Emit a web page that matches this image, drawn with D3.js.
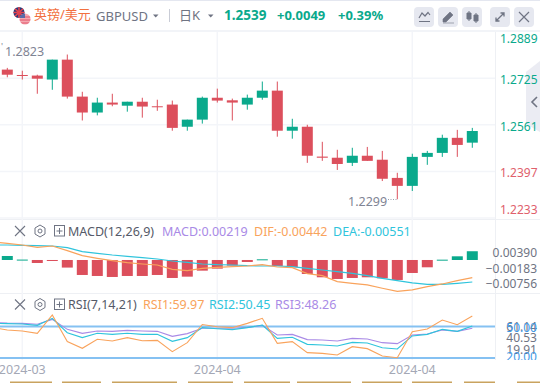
<!DOCTYPE html>
<html>
<head>
<meta charset="utf-8">
<script src="https://cdn.jsdelivr.net/npm/d3@7"></script>
<style>
  html, body { margin: 0; padding: 0; background: #fff; overflow: hidden; }
  svg { display: block; font-family: "Noto Sans", "Noto Sans CJK SC", sans-serif; }
</style>
</head>
<body>
<svg id="chart" width="540" height="383"></svg>
<script>
// daily candles
const opens  = [1.2755,1.2736,1.2734,1.2720,1.2790,1.2660,1.2604,1.2639,1.2628,1.2642,1.2626,1.2632,1.2554,1.2579,1.2656,1.2647,1.2632,1.2656,1.2681,1.2540,1.2554,1.2449,1.2445,1.2427,1.2452,1.2438,1.2374,1.2346,1.2448,1.2462,1.2515,1.2498];
const closes = [1.2737,1.2733,1.2723,1.2790,1.2660,1.2604,1.2639,1.2632,1.2642,1.2625,1.2623,1.2550,1.2579,1.2656,1.2646,1.2639,1.2656,1.2681,1.2540,1.2554,1.2452,1.2445,1.2423,1.2452,1.2434,1.2371,1.2346,1.2448,1.2462,1.2515,1.2490,1.2539];
const highs  = [1.2761,1.2751,1.2737,1.2790,1.2808,1.2677,1.2656,1.2670,1.2642,1.2656,1.2649,1.2646,1.2579,1.2660,1.2688,1.2653,1.2667,1.2713,1.2713,1.2582,1.2561,1.2501,1.2473,1.2480,1.2483,1.2469,1.2392,1.2459,1.2469,1.2526,1.2543,1.2550];
const lows   = [1.2728,1.2720,1.2670,1.2684,1.2653,1.2576,1.2594,1.2626,1.2607,1.2586,1.2610,1.2540,1.2540,1.2565,1.2639,1.2576,1.2614,1.2649,1.2519,1.2512,1.2427,1.2434,1.2402,1.2416,1.2434,1.2363,1.2299,1.2328,1.2420,1.2448,1.2448,1.2480];

const priceTicks = [1.2889,1.2725,1.2561,1.2397,1.2233];
const dateIndex  = [1,14,27];
const dateLabels = ["2024-03","2024-04","2024-04"];

// MACD pane. Lines carry one extra leading point that sits off the left edge
const macdHist = [0.001,0.0001,-0.00075,-0.00017,-0.0019,-0.00375,-0.004,-0.00425,-0.004,-0.004,-0.00375,-0.0045,-0.00417,-0.00267,-0.00217,-0.00142,-0.0005,0.00017,-0.0015,-0.00183,-0.0035,-0.00433,-0.00475,-0.0045,-0.00433,-0.00458,-0.005,-0.00325,-0.00183,0.00008,0.00092,0.00219];
const difLine  = [0.00458,0.00417,0.00375,0.00317,0.0035,0.00233,0.00108,0.00042,-0.00017,-0.00067,-0.001,-0.00125,-0.00233,-0.00267,-0.00208,-0.00183,-0.00167,-0.0015,-0.00117,-0.00175,-0.00192,-0.00342,-0.00392,-0.00542,-0.00583,-0.00625,-0.00708,-0.00783,-0.0075,-0.00667,-0.006,-0.00517,-0.00442];
const deaLine  = [0.00375,0.00375,0.00367,0.00358,0.0035,0.00308,0.00208,0.00167,0.00125,0.00092,0.00058,0.00025,-0.00025,-0.00058,-0.001,-0.00117,-0.00125,-0.00142,-0.0015,-0.0015,-0.00167,-0.00208,-0.0025,-0.00292,-0.00333,-0.00392,-0.00458,-0.00517,-0.00575,-0.00608,-0.00608,-0.00583,-0.00551];
const macdTicks = [0.00390,-0.00183,-0.00756];

// RSI pane, same leading point
const rsi1 = [49.0,46.7,45.7,43.5,61.0,35.6,29.2,37.8,36.2,39.4,36.5,36.8,26.0,34.6,51.9,49.8,48.9,53.0,57.8,34.0,35.6,25.1,24.4,22.9,30.8,28.9,21.9,20.3,45.1,47.6,56.2,51.7,59.97];
const rsi2 = [53.0,52.7,52.4,51.1,57.8,44.1,39.4,43.5,42.5,43.5,42.5,42.5,35.9,39.4,48.9,47.9,47.0,48.9,51.4,38.7,39.7,33.0,32.4,31.4,34.9,34.3,29.8,28.6,41.0,42.5,47.3,45.4,50.45];
const rsi3 = [54.0,53.3,53.0,52.1,56.8,47.3,43.5,45.7,45.4,46.3,45.7,45.4,40.6,43.2,48.3,48.3,48.3,49.2,51.1,41.9,42.5,37.5,37.1,36.2,38.7,38.1,34.6,33.7,41.9,42.9,46.7,45.4,48.26];
const rsiTicks = [61.14,40.53,19.91];
const rsiBands = [50,20];

const green = "#0aa98c", red = "#dc4f5c", orange = "#f9a35c", cyan = "#2fc4dc", purple = "#a98ae6";
const gridColor = "#f3f5f9", axisGray = "#6f7483", paneRight = 495;

const svg = d3.select("#chart");
const x = d3.scaleLinear().domain([0, 31]).range([7.3, 472.3]);
const priceY = d3.scaleLinear().domain([1.2889, 1.2233]).range([31.5, 218]);
const macdY = d3.scaleLinear().domain([0.00390, -0.00756]).range([244.4, 290.2]);
const rsiY = d3.scaleLinear().domain([50, 20]).range([326.5, 358]);
const candleWidth = 11;

// frame and grid
svg.append("rect").attr("width", 540).attr("height", 1).attr("fill", "#e4e7f0");
svg.append("rect").attr("y", 30).attr("width", 540).attr("height", 2).attr("fill", "#f2f4f8");
[219, 293, 360].forEach(y => {
  svg.append("line").attr("x1", 0).attr("x2", 540).attr("y1", y + .5).attr("y2", y + .5)
    .attr("stroke", "#eef0f4");
});
svg.append("line").attr("x1", paneRight + .5).attr("x2", paneRight + .5).attr("y1", 32).attr("y2", 360)
  .attr("stroke", "#eef0f4");
svg.selectAll(".vgrid").data(dateIndex).join("line")
  .attr("class", "vgrid")
  .attr("x1", d => x(d)).attr("x2", d => x(d)).attr("y1", 32).attr("y2", 360)
  .attr("stroke", gridColor).attr("stroke-width", 1.5);
svg.selectAll(".hgrid").data(priceTicks.slice(1)).join("line")
  .attr("class", "hgrid")
  .attr("x1", 0).attr("x2", paneRight).attr("y1", d => priceY(d)).attr("y2", d => priceY(d))
  .attr("stroke", gridColor).attr("stroke-width", 1.5);

// collapse tab on the right, sits behind the axis labels
svg.append("path").attr("d", "M526,72L540,61V132L526,124Z").attr("fill", "#ebecf3");
svg.append("path").attr("d", "M537,97L532,102L537,107").attr("fill", "none").attr("stroke", "#6f7483").attr("stroke-width", 1.6);

// candles
const candles = svg.append("g").selectAll("g").data(opens).join("g")
  .attr("fill", (d, i) => closes[i] >= d ? green : red)
  .attr("stroke", (d, i) => closes[i] >= d ? green : red);
candles.append("line")
  .attr("x1", (d, i) => x(i)).attr("x2", (d, i) => x(i))
  .attr("y1", (d, i) => priceY(highs[i])).attr("y2", (d, i) => priceY(lows[i]))
  .attr("stroke-width", 1);
candles.append("rect")
  .attr("x", (d, i) => x(i) - candleWidth / 2)
  .attr("width", candleWidth)
  .attr("y", (d, i) => priceY(Math.max(d, closes[i])))
  .attr("height", (d, i) => Math.max(1, Math.abs(priceY(d) - priceY(closes[i]))))
  .attr("stroke", "none");

// high / low labels
svg.append("text").attr("x", 5).attr("y", 56).attr("font-size", 12.5).attr("fill", "#7f8494").text("1.2823");
svg.append("text").attr("x", 1).attr("y", 50).attr("font-size", 9).attr("fill", "#7f8494").text("'");
svg.append("text").attr("x", 348).attr("y", 206).attr("font-size", 12.5).attr("fill", "#7f8494").text("1.2299");
svg.append("line").attr("x1", 388).attr("x2", 398).attr("y1", 199.5).attr("y2", 199.5)
  .attr("stroke", "#9a9eac").attr("stroke-dasharray", "1 1.5");

// MACD
svg.append("g").selectAll("rect").data(macdHist).join("rect")
  .attr("x", (d, i) => x(i) - candleWidth / 2)
  .attr("width", candleWidth)
  .attr("y", d => Math.min(macdY(d), macdY(0)))
  .attr("height", d => Math.max(1, Math.abs(macdY(d) - macdY(0))))
  .attr("fill", d => d >= 0 ? green : red);

const macdLine = d3.line().x((d, i) => x(i - 1)).y(d => macdY(d));
svg.append("path").attr("d", macdLine(deaLine)).attr("fill", "none").attr("stroke", cyan).attr("stroke-width", 1.2);
svg.append("path").attr("d", macdLine(difLine)).attr("fill", "none").attr("stroke", orange).attr("stroke-width", 1.2);

// RSI
const rsiLine = d3.line().x((d, i) => x(i - 1)).y(d => rsiY(d));
svg.selectAll(".band").data(rsiBands).join("line")
  .attr("class", "band")
  .attr("x1", 0).attr("x2", paneRight).attr("y1", d => rsiY(d)).attr("y2", d => rsiY(d))
  .attr("stroke", "#85c1f2").attr("stroke-width", 2);
[[rsi3, purple], [rsi2, cyan], [rsi1, orange]].forEach(([values, color]) => {
  svg.append("path").attr("d", rsiLine(values)).attr("fill", "none").attr("stroke", color).attr("stroke-width", 1.1);
});

// axes, labels near the pane edges get pushed back inside
function drawAxis(scale, ticks, format, lo, hi, color, anchor) {
  const g = svg.append("g").attr("transform", `translate(${paneRight},0)`)
    .call(d3.axisRight(scale).tickValues(ticks).tickSize(0).tickPadding(5).tickFormat(format));
  g.select(".domain").remove();
  g.selectAll(".tick text")
    .attr("font-size", 12).attr("fill", color)
    .attr("text-anchor", anchor)
    .attr("x", anchor == "end" ? 42 : 5)
    .attr("transform", d => `translate(0,${Math.min(hi, Math.max(lo, scale(d) + 1.5)) - scale(d)})`);
  g.attr("font-family", null);
  return g;
}
const lastClose = closes[closes.length - 1];
drawAxis(priceY, priceTicks, d3.format(".4f"), 39, 210, axisGray, "start")
  .selectAll(".tick text").attr("fill", d => d >= lastClose ? green : "#e0606c");
drawAxis(macdY, macdTicks, d3.format(".5f"), 253, 284, axisGray, "end");
drawAxis(rsiY, rsiTicks, d3.format(".2f"), 327, 350, axisGray, "end");
drawAxis(rsiY, rsiBands, d3.format(".2f"), 327, 357, "#3f9be8", "end");

// white strip under the RSI pane hides what runs over, then the date labels
svg.append("rect").attr("y", 360).attr("width", 540).attr("height", 23).attr("fill", "#fff");
svg.selectAll(".date").data(dateIndex).join("text")
  .attr("class", "date")
  .attr("x", d => x(d)).attr("y", 373.5)
  .attr("text-anchor", "middle").attr("font-size", 12.5).attr("fill", "#a4a8b6")
  .text((d, i) => dateLabels[i]);
const bottomTabs = [[10,42],[62,39],[112,65],[188,45],[244,46],[297,54],[362,40],[412,40],[464,31],[517,23]];
svg.selectAll(".tab").data(bottomTabs).join("rect")
  .attr("class", "tab")
  .attr("x", d => d[0]).attr("width", d => d[1]).attr("y", 381.5).attr("height", 2)
  .attr("fill", "#c9a35f");

// header
svg.append("clipPath").attr("id", "ukClip").append("circle").attr("cx", 19).attr("cy", 12.5).attr("r", 5.5);
svg.append("clipPath").attr("id", "usClip").append("circle").attr("cx", 25).attr("cy", 19).attr("r", 5.5);
const uk = svg.append("g").attr("clip-path", "url(#ukClip)");
uk.append("rect").attr("x", 13).attr("y", 7).attr("width", 12).attr("height", 12).attr("fill", "#2c3a78");
uk.append("path").attr("d", "M13,7L25,18M25,7L13,18M19,7V18M13,12.5H25").attr("stroke", "#e2434f").attr("stroke-width", 1.6);
const us = svg.append("g").attr("clip-path", "url(#usClip)");
us.append("rect").attr("x", 19).attr("y", 13).attr("width", 12).attr("height", 12).attr("fill", "#f4a9b0");
us.append("path").attr("d", "M19,17H31M19,20H31M19,23H31").attr("stroke", "#e2536a").attr("stroke-width", 1);
us.append("rect").attr("x", 19).attr("y", 13).attr("width", 6).attr("height", 5).attr("fill", "#5a6aa8");

function label(px, py, txt, size, color, weight) {
  return svg.append("text").attr("x", px).attr("y", py).attr("font-size", size)
    .attr("fill", color).attr("font-weight", weight || 400).text(txt);
}
label(34, 19, "英镑/美元", 13, "#f2703f");
label(96, 20.5, "GBPUSD", 13, "#6f7483");
svg.append("path").attr("d", "M153,14.5H158.5L155.7,17.5Z").attr("fill", "#6f7483");
svg.append("line").attr("x1", 169.5).attr("x2", 169.5).attr("y1", 9).attr("y2", 22).attr("stroke", "#c9ccd6");
label(179, 20, "日K", 13, "#6f7483");
svg.append("path").attr("d", "M208,14.5H213.5L210.7,17.5Z").attr("fill", "#6f7483");
label(224, 19.5, "1.2539", 13.5, green, 700);
label(277, 19.5, "+0.0049", 13, green, 700);
label(338, 19.5, "+0.39%", 13, green, 700);

// toolbar buttons
const buttonX = [414, 438, 462, 490, 514];
svg.selectAll(".btn").data(buttonX).join("rect")
  .attr("class", "btn")
  .attr("x", d => d).attr("y", 7).attr("width", 20).attr("height", 20).attr("rx", 4)
  .attr("fill", "#e6e8f0");
const glyph = "#6f7483";
svg.append("path").attr("d", "M419,18L422,13L425,16L428,12.5L430,15M419,21.5H430").attr("fill", "none").attr("stroke", glyph).attr("stroke-width", 1.2);
svg.append("path").attr("d", "M443,19L450,12L453,15L446,22H443ZM443,23H454").attr("fill", glyph).attr("stroke", glyph).attr("stroke-width", .6);
svg.append("path").attr("d", "M467,13H471V19H467ZM469,11V21M474,15H478V21H474ZM476,13V23").attr("fill", glyph).attr("stroke", glyph);
svg.append("path").attr("d", "M496,21L504,13M500.5,13H504V16.5M496,17.5V21H499.5").attr("fill", "none").attr("stroke", glyph).attr("stroke-width", 1.3);
svg.append("path").attr("d", "M519,12L529,22M529,12L519,22").attr("fill", "none").attr("stroke", glyph).attr("stroke-width", 1.2);

// pane headers
function paneHeader(cy, title) {
  svg.append("path").attr("d", `M15,${cy - 5}L25,${cy + 5}M25,${cy - 5}L15,${cy + 5}`).attr("stroke", glyph).attr("stroke-width", 1.1);
  svg.append("path").attr("d", `M40,${cy - 6}L45,${cy - 3}V${cy + 3}L40,${cy + 6}L35,${cy + 3}V${cy - 3}Z`).attr("fill", "none").attr("stroke", glyph);
  svg.append("circle").attr("cx", 40).attr("cy", cy).attr("r", 2).attr("fill", "none").attr("stroke", glyph);
  svg.append("rect").attr("x", 54.5).attr("y", cy - 5.5).attr("width", 10).attr("height", 10.5).attr("fill", "none").attr("stroke", glyph);
  svg.append("path").attr("d", `M56.5,${cy}H62.5M59.5,${cy - 3}V${cy + 3}`).attr("stroke", glyph);
  label(68, cy + 4.5, title, 12.5, "#555a68");
}
paneHeader(231, "MACD(12,26,9)");
label(162, 235.5, "MACD:0.00219", 12.5, purple);
label(254, 235.5, "DIF:-0.00442", 12.5, orange);
label(333, 235.5, "DEA:-0.00551", 12.5, cyan);
paneHeader(304.5, "RSI(7,14,21)");
label(143, 309, "RSI1:59.97", 12.5, orange);
label(209, 309, "RSI2:50.45", 12.5, cyan);
label(275, 309, "RSI3:48.26", 12.5, purple);
</script>
</body>
</html>
